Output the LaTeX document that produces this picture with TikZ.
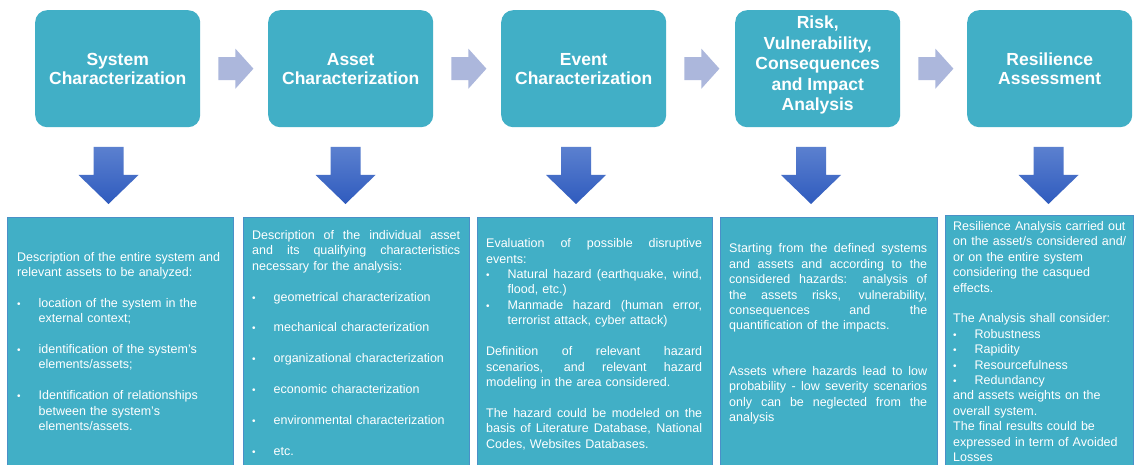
\documentclass[tikz,border=0pt]{standalone}
\usepackage{fontspec}
\setmainfont{Liberation Sans}
\usetikzlibrary{calc}
\definecolor{tealbox}{HTML}{41AFC6}
\definecolor{lavarrow}{HTML}{ACB7DC}
\definecolor{dtop}{HTML}{5B80CF}
\definecolor{dbot}{HTML}{2F5BBE}
\definecolor{bordblue}{HTML}{4A90C8}
\newlength{\jw}
\newcommand\J[1]{{\spaceskip=0pt\xspaceskip=0pt\makebox[\jw][s]{#1}}}
\newcommand\bul{\makebox[21.5pt][l]{\fontsize{10}{10}\selectfont •}}
\newcommand\BJ[1]{\bul{\spaceskip=0pt\xspaceskip=0pt\makebox[\dimexpr\jw-21.5pt\relax][s]{#1}}}
\newcommand\B[1]{\bul #1}
\newcommand\C[1]{\hspace*{21.5pt}#1}
\newcommand\gap{\\[15.4pt]}
\tikzset{
  topbox/.style={fill=tealbox, rounded corners=12pt, minimum width=165pt, minimum height=117pt,
    inner sep=0pt, text=white, font=\fontsize{17.5}{19}\selectfont\bfseries, align=center, anchor=north west},
  titletext/.style={text=white, font=\fontsize{17.5}{20.6}\selectfont\bfseries, align=center, inner sep=0pt},
  botbox/.style={fill=tealbox, draw=bordblue, line width=0.8pt, minimum height=280pt, inner sep=0pt, anchor=north west},
  bodytext/.style={text=white, font=\fontsize{12.5}{15.4}\selectfont, align=left, inner sep=0pt, anchor=base west},
  rarrow/.style={fill=lavarrow},
  darrow/.style={top color=dtop, bottom color=dbot, draw=none},
}
\begin{document}
\begin{tikzpicture}[x=1pt,y=-1pt]
\useasboundingbox (0,0) rectangle (1137,465);
\clip (0,0) rectangle (1137,465);
\fill[white] (0,0) rectangle (1137,465);

% top boxes
\node[topbox] (b1) at (35,10) {System\\Characterization};
\node[topbox] (b2) at (268,10) {Asset\\Characterization};
\node[topbox] (b3) at (501,10) {Event\\Characterization};
\node[topbox] (b4) at (735,10) {};
\node[titletext] (t4) at ($(b4.center)+(0,-3.5)$) {Risk,\\Vulnerability,\\Consequences\\and Impact\\Analysis};
\node[topbox] (b5) at (967,10) {Resilience\\Assessment};

% right arrows
\foreach \a in {b1,b2,b3,b4}{
  \fill[rarrow] ($(\a.east)+(18,-11.5)$) -- ++(17,0) -- ++(0,-8.5) -- ++(18,20) -- ++(-18,20) -- ++(0,-8.5) -- ++(-17,0) -- cycle;
}

% down arrows
\coordinate (d1) at (108.5,147);
\coordinate (d2) at (345.5,147);
\coordinate (d3) at (576,147);
\coordinate (d4) at (811,147);
\coordinate (d5) at (1048.5,147);
\foreach \d in {d1,d2,d3,d4,d5}{
  \shade[darrow] (\d) ++(-15,0) -- ++(30,0) -- ++(0,28) -- ++(15,0) -- ++(-30,29) -- ++(-30,-29) -- ++(15,0) -- cycle;
}

% bottom boxes
\node[botbox, minimum width=226pt] (c1) at (7,216.5) {};
\node[botbox, minimum width=226pt] (c2) at (243,216.5) {};
\node[botbox, minimum width=235pt] (c3) at (477,216.5) {};
\node[botbox, minimum width=217pt] (c4) at (720,216.5) {};
\node[botbox, minimum width=188pt] (c5) at (945,215) {};

% body texts
\node[bodytext, text width=240pt] (p1) at (17,261) {%
Description of the entire system and\\
relevant assets to be analyzed:\gap
\B{location of the system in the}\\
\C{external context;}\gap
\B{identification of the system’s}\\
\C{elements/assets;}\gap
\B{Identification of relationships}\\
\C{between the system’s}\\
\C{elements/assets.}};

\node[bodytext, text width=240pt] (p2) at (252,239.5) {\setlength{\jw}{208pt}%
\J{Description of the individual asset}\\
\J{and its qualifying characteristics}\\
necessary for the analysis:\gap
\B{geometrical characterization}\gap
\B{mechanical characterization}\gap
\B{organizational characterization}\gap
\B{economic characterization}\gap
\B{environmental characterization}\gap
\B{etc.}};

\node[bodytext, text width=250pt] (p3) at (486,247.8) {\setlength{\jw}{216pt}%
\J{Evaluation of possible disruptive}\\
events:\\
\BJ{Natural hazard (earthquake, wind,}\\
\C{flood, etc.)}\\
\BJ{Manmade hazard (human error,}\\
\C{terrorist attack, cyber attack)}\gap
\J{Definition of relevant hazard}\\
\J{scenarios, and relevant hazard}\\
modeling in the area considered.\gap
\J{The hazard could be modeled on the}\\
\J{basis of Literature Database, National}\\
Codes, Websites Databases.};

\node[bodytext, text width=240pt] (p4) at (729,252.8) {\setlength{\jw}{198pt}%
\J{Starting from the defined systems}\\
\J{and assets and according to the}\\
\J{considered hazards: analysis of}\\
\J{the assets risks, vulnerability,}\\
\J{consequences and the}\\
quantification of the impacts.\\[30pt]
\J{Assets where hazards lead to low}\\
\J{probability - low severity scenarios}\\
\J{only can be neglected from the}\\
analysis};

\node[bodytext, text width=220pt] (p5) at (953,230.5) {%
Resilience Analysis carried out\\
on the asset/s considered and/\\
or on the entire system\\
considering the casqued\\
effects.\gap
The Analysis shall consider:\\
\B{Robustness}\\
\B{Rapidity}\\
\B{Resourcefulness}\\
\B{Redundancy}\\
and assets weights on the\\
overall system.\\
The final results could be\\
expressed in term of Avoided\\
Losses};
\end{tikzpicture}
\end{document}
